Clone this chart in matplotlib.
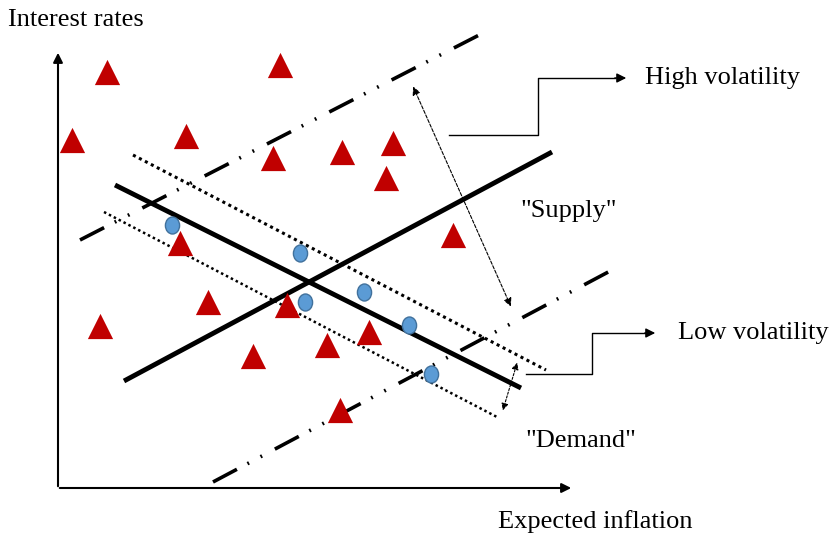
import numpy as np
import matplotlib.pyplot as plt
from matplotlib.path import Path

# positions are in picture pixels (x right, y down)
tri_x = [107, 280, 72, 186, 273, 342, 393, 386, 453, 180, 208, 100, 287, 253, 327, 369, 340]
tri_y = [72, 65, 140, 136, 158, 152, 143, 178, 235, 243, 302, 326, 305, 356, 345, 332, 410]
dot_x = [172, 300, 305, 364, 409, 431]
dot_y = [225, 253, 302, 292, 325, 374]

demand_x, demand_y = [115, 521], [185, 388]
supply_x, supply_y = [124, 552], [381, 152]
band_hi_x, band_hi_y = [133, 546], [155, 370]
band_lo_x, band_lo_y = [104, 497], [212, 417]
wide_hi_x, wide_hi_y = [80, 485], [240, 32]
wide_lo_x, wide_lo_y = [213, 612], [482, 270]

fig = plt.figure(figsize=(8.35, 5.4), dpi=100)
ax = fig.add_axes([0, 0, 1, 1])
ax.set_xlim(0, 835)
ax.set_ylim(540, 0)
ax.axis('off')

serif = ['Liberation Serif', 'DejaVu Serif']
dashdotdot = (0, (7.5, 3.3, 0.5, 3.6, 0.5, 4))

# axes arrows
ax.annotate('', xy=(58, 50), xytext=(58, 489),
            arrowprops=dict(arrowstyle='-|>', lw=1.5, color='black', mutation_scale=14))
ax.annotate('', xy=(574, 488), xytext=(57, 488),
            arrowprops=dict(arrowstyle='-|>', lw=1.5, color='black', mutation_scale=14))

# lines
ax.plot(wide_hi_x, wide_hi_y, color='black', lw=2.6, ls=dashdotdot)
ax.plot(wide_lo_x, wide_lo_y, color='black', lw=2.6, ls=dashdotdot)
ax.plot(band_hi_x, band_hi_y, color='black', lw=2.2, ls=(0, (1, 1.2)))
ax.plot(band_lo_x, band_lo_y, color='black', lw=1.8, ls=(0, (1, 1.2)))
ax.plot(demand_x, demand_y, color='black', lw=3.5, solid_capstyle='butt')
ax.plot(supply_x, supply_y, color='black', lw=3.5, solid_capstyle='butt')

# markers
ax.scatter(tri_x, tri_y, marker='^', s=330, color='#C00000', linewidths=0, zorder=3)
oval = Path(Path.unit_circle().vertices * [1, 1.2], Path.unit_circle().codes)
ax.scatter(dot_x, dot_y, marker=oval, s=150, color='#5B9BD5', edgecolors='#41719C',
           linewidths=1, zorder=4)

# volatility double arrows
ax.annotate('', xy=(412, 84), xytext=(512, 309),
            arrowprops=dict(arrowstyle='<|-|>', lw=0.8, ls=(0, (3, 1.5)), color='black',
                            mutation_scale=12))
ax.annotate('', xy=(518, 360), xytext=(502, 413),
            arrowprops=dict(arrowstyle='<|-|>', lw=0.8, ls=(0, (2, 1.5)), color='black',
                            mutation_scale=10))

# callout connectors
ax.plot([449, 538, 538, 615], [135, 135, 78, 78], color='black', lw=1)
ax.annotate('', xy=(629, 78), xytext=(612, 78),
            arrowprops=dict(arrowstyle='-|>', lw=1, color='black', mutation_scale=14))
ax.plot([526, 592, 592, 645], [374, 374, 333, 333], color='black', lw=1)
ax.annotate('', xy=(658, 333), xytext=(642, 333),
            arrowprops=dict(arrowstyle='-|>', lw=1, color='black', mutation_scale=14))

# texts
fs = 19
ax.text(8, 20, 'Interest rates', family=serif, fontsize=fs, va='center', ha='left')
ax.text(498, 522, 'Expected inflation', family=serif, fontsize=fs, va='center', ha='left')
ax.text(645, 78, 'High volatility', family=serif, fontsize=fs, va='center', ha='left')
ax.text(678, 333, 'Low volatility', family=serif, fontsize=fs, va='center', ha='left')
ax.text(520, 211, '"Supply"', family=serif, fontsize=fs, va='center', ha='left')
ax.text(525, 441, '"Demand"', family=serif, fontsize=fs, va='center', ha='left')

fig.savefig('out.png', dpi=100)
